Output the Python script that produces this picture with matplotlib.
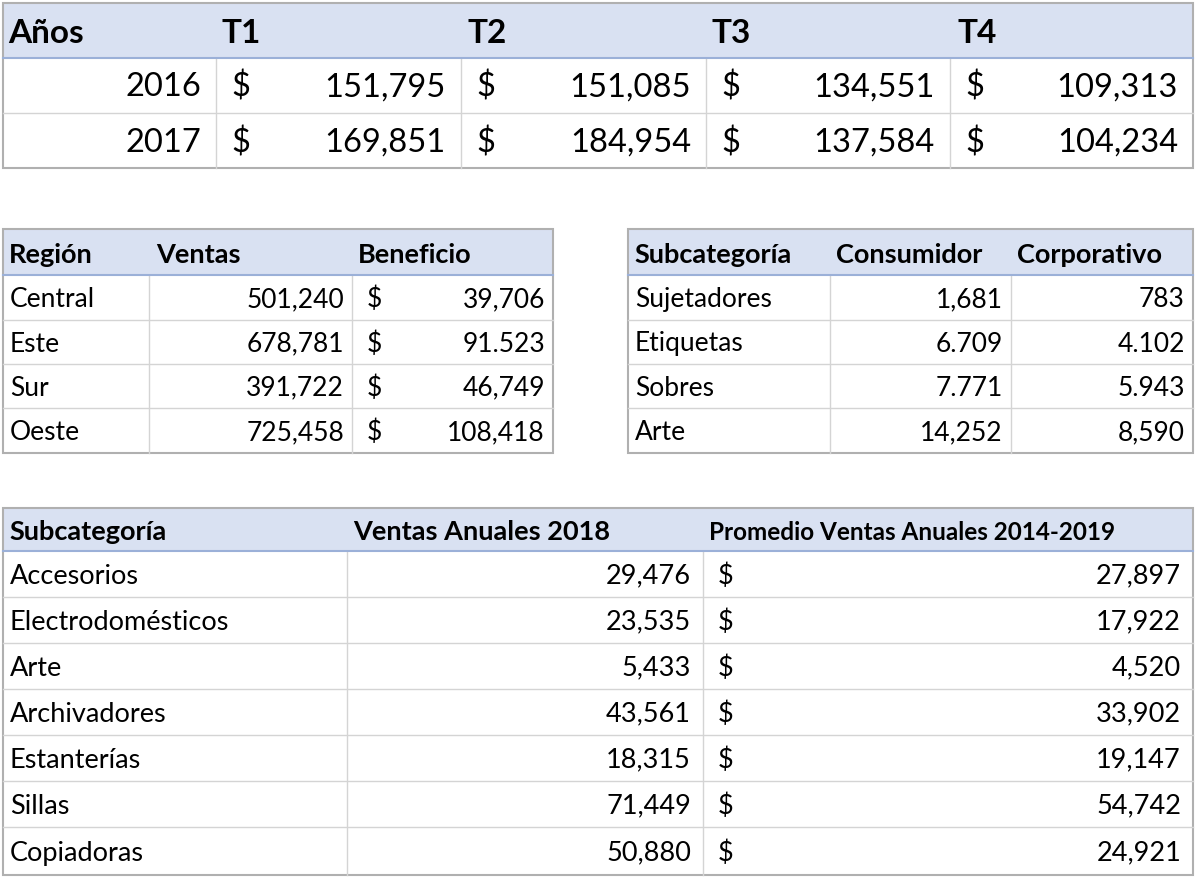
import matplotlib
matplotlib.use("Agg")
import matplotlib.pyplot as plt
from matplotlib.patches import Rectangle

years = ["2016", "2017"]
quarters = ["T1", "T2", "T3", "T4"]
q_values = [["151,795", "151,085", "134,551", "109,313"],
            ["169,851", "184,954", "137,584", "104,234"]]

regions = ["Central", "Este", "Sur", "Oeste"]
region_sales = ["501,240", "678,781", "391,722", "725,458"]
region_profit = ["39,706", "91.523", "46,749", "108,418"]

subcats1 = ["Sujetadores", "Etiquetas", "Sobres", "Arte"]
consumer = ["1,681", "6.709", "7.771", "14,252"]
corporate = ["783", "4.102", "5.943", "8,590"]

subcats2 = ["Accesorios", "Electrodomésticos", "Arte", "Archivadores", "Estanterías", "Sillas", "Copiadoras"]
sales2018 = ["29,476", "23,535", "5,433", "43,561", "18,315", "71,449", "50,880"]
avg_sales = ["27,897", "17,922", "4,520", "33,902", "19,147", "54,742", "24,921"]

FONT = "Lato"
HDR = "#d9e1f2"
GRID = "#d4d4d4"
BLUE = "#9bb0d8"

fig = plt.figure(figsize=(11.97, 8.8), dpi=100)
ax = fig.add_axes([0, 0, 1, 1])
ax.set_xlim(0, 1197); ax.set_ylim(880, 0); ax.axis("off")

def table(x0, cols, y_rows, header, rows, fs, hfs, aligns, dollar_cols=(), rpad=8):
    x1 = cols[-1]
    ax.add_patch(Rectangle((x0, y_rows[0]), x1 - x0, y_rows[1] - y_rows[0], color=HDR, lw=0))
    for y in y_rows[2:-1]:
        ax.plot([x0, x1], [y, y], color=GRID, lw=1)
    for c in cols[1:-1]:
        ax.plot([c, c], [y_rows[1], y_rows[-1]], color=GRID, lw=1)
    ax.plot([x0, x1], [y_rows[1], y_rows[1]], color=BLUE, lw=1.5)
    ax.add_patch(Rectangle((x0, y_rows[0]), x1 - x0, y_rows[-1] - y_rows[0], fill=False, ec="#b0b0b0", lw=1.5))
    allc = [x0] + cols[1:]
    for (txt, hx) in header:
        ax.text(hx, (y_rows[0] + y_rows[1]) / 2 + 3, txt, fontsize=hfs[txt] if isinstance(hfs, dict) else hfs,
                fontweight="bold", family=FONT, va="center", ha="left")
    for r, row in enumerate(rows):
        yc = (y_rows[r + 1] + y_rows[r + 2]) / 2 + 2
        for ci, val in enumerate(row):
            l, rr = allc[ci], allc[ci + 1]
            if aligns[ci] == "l":
                ax.text(l + 7, yc, val, fontsize=fs, family=FONT, va="center", ha="left")
            else:
                ax.text(rr - rpad, yc, val, fontsize=fs, family=FONT, va="center", ha="right")
            if ci in dollar_cols:
                ax.text(l + 15, yc, "$", fontsize=fs, family=FONT, va="center", ha="left")

rows1 = [[y] + v for y, v in zip(years, q_values)]
table(3, [3, 216, 461, 706, 950, 1193], [3, 58, 113, 168],
      [("Años", 8), ("T1", 222), ("T2", 468), ("T3", 712), ("T4", 957)],
      rows1, 23.5, 24, ["r", "r", "r", "r", "r"], dollar_cols=(1, 2, 3, 4), rpad=15)

rows2 = [[a, b, c] for a, b, c in zip(regions, region_sales, region_profit)]
table(3, [3, 149, 352, 553], [229, 275, 320, 364, 408, 453],
      [("Región", 9), ("Ventas", 156), ("Beneficio", 358)],
      rows2, 19, 19.5, ["l", "r", "r"], dollar_cols=(2,))

rows3 = [[a, b, c] for a, b, c in zip(subcats1, consumer, corporate)]
table(628, [628, 830, 1011, 1193], [229, 275, 320, 364, 408, 453],
      [("Subcategoría", 634), ("Consumidor", 836), ("Corporativo", 1017)],
      rows3, 19, 19.5, ["l", "r", "r"])

rows4 = [[a, b, c] for a, b, c in zip(subcats2, sales2018, avg_sales)]
hf = {"Subcategoría": 19.5, "Ventas Anuales 2018": 19.5, "Promedio Ventas Anuales 2014-2019": 17.5}
table(3, [3, 347, 703, 1193], [508, 551, 597, 643, 689, 735, 781, 827, 875],
      [("Subcategoría", 9), ("Ventas Anuales 2018", 353), ("Promedio Ventas Anuales 2014-2019", 709)],
      rows4, 19.5, hf, ["l", "r", "r"], dollar_cols=(2,), rpad=12)

fig.savefig("out.png", dpi=100, facecolor="white")
